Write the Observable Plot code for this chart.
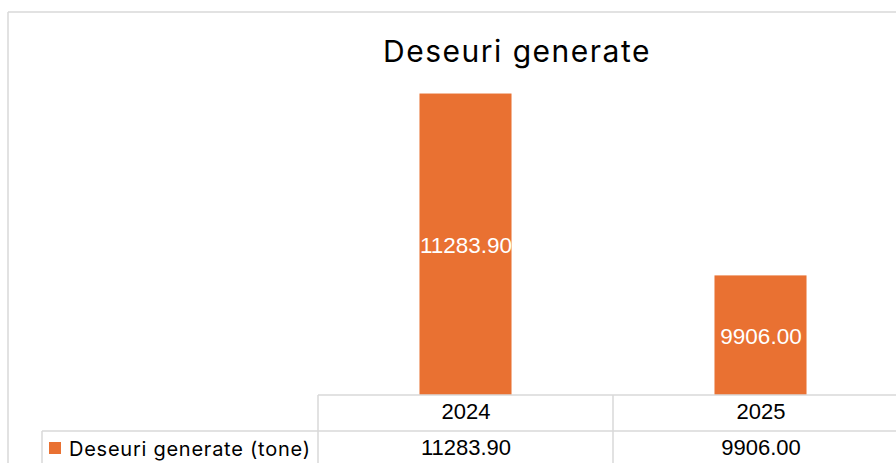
<!DOCTYPE html>
<html>
<head>
<meta charset="utf-8">
<script src="https://cdn.jsdelivr.net/npm/d3@7"></script>
<script src="https://cdn.jsdelivr.net/npm/@observablehq/plot@0.6"></script>
<style>
  html, body { margin: 0; padding: 0; background: #ffffff; }
  #chart { width: 896px; height: 463px; overflow: hidden; }
</style>
</head>
<body>
<div id="chart"></div>
<script>
// ---- data ----
const title = "Deseuri generate";
const seriesName = "Deseuri generate (tone)";
const years = ["2024", "2025"];
const values = [11283.90, 9906.00];
const yDomain = [9000, 11500];

// ---- style ----
const ORANGE = "#E97132";
const GRID = "#d9d9d9";
const labelFont = "Inter, 'Open Sans', sans-serif";
const numFont = "'Liberation Sans', Arial, sans-serif";

const data = years.map((year, i) => ({year, value: values[i]}));
const fmt = d3.format(".2f");

// chart-area frame, title, data table grid and legend key
function chrome(index, scales, values, dims) {
  const x = scales.x;
  const step = x.step(), bw = x.bandwidth();
  const edges = years.map(c => x(c) - (step - bw) / 2);
  edges.push(x(years[years.length - 1]) + bw + (step - bw) / 2);
  const base = dims.height - dims.marginBottom;
  const row = 36;
  const g = d3.create("svg:g");
  const line = (x1, y1, x2, y2) => g.append("line")
    .attr("x1", x1).attr("y1", y1).attr("x2", x2).attr("y2", y2)
    .attr("stroke", GRID).attr("stroke-width", 1.5);
  // chart area border
  const left = 8, top = 12, right = 1026;
  line(left, top, right, top);
  line(left, top, left, dims.height + 5);
  // title
  g.append("text").attr("x", (left + right) / 2).attr("y", 62)
    .attr("text-anchor", "middle").attr("font-family", labelFont)
    .attr("font-size", 30).attr("letter-spacing", "1.5px").attr("fill", "#000").text(title);
  // table grid
  line(edges[0], base, edges[edges.length - 1], base);
  line(42, base + row, edges[edges.length - 1], base + row);
  edges.forEach(e => line(e, base, e, dims.height + 5));
  line(42, base + row, 42, dims.height + 5);
  // legend key
  g.append("rect").attr("x", 49).attr("y", 442).attr("width", 12).attr("height", 12).attr("fill", ORANGE);
  g.append("text").attr("x", 69).attr("y", 456).attr("text-anchor", "start")
    .attr("font-family", labelFont).attr("font-size", 20).attr("letter-spacing", "0.75px")
    .attr("fill", "#000").text(seriesName);
  return g.node();
}

const plot = Plot.plot({
  width: 896,
  height: 463,
  marginTop: 65,
  marginBottom: 68,
  marginLeft: 318,
  marginRight: 0,
  x: {domain: years, range: [318, 908], paddingInner: 0.688, paddingOuter: 0.344, round: false, axis: null},
  y: {domain: yDomain, axis: null},
  style: {fontFamily: numFont, background: "#ffffff"},
  marks: [
    Plot.barY(data, {x: "year", y1: yDomain[0], y2: "value", fill: ORANGE}),
    Plot.text(data, {x: "year", y: d => (d.value + yDomain[0]) / 2, dy: 1, text: d => fmt(d.value),
      fill: "#ffffff", fontSize: 22.5, fontFamily: numFont}),
    Plot.text(data, {x: "year", frameAnchor: "bottom", dy: 23, text: "year", fill: "#000", fontSize: 22, fontFamily: numFont}),
    Plot.text(data, {x: "year", frameAnchor: "bottom", dy: 59, text: d => fmt(d.value), fill: "#000", fontSize: 22, fontFamily: numFont}),
    chrome
  ]
});
document.getElementById("chart").append(plot);
</script>
</body>
</html>
